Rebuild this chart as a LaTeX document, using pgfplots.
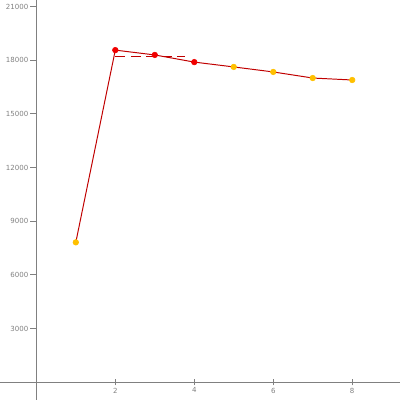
\documentclass[border=0pt]{standalone}
\usepackage{pgfplots}
\pgfplotsset{compat=1.18}
\usepackage{fontspec}
\setmainfont{DejaVu Sans}
\definecolor{linered}{HTML}{C00000}
\definecolor{mkred}{HTML}{F00000}
\definecolor{mkorange}{HTML}{FFC000}
\definecolor{axgray}{HTML}{808080}
\begin{document}
\begin{tikzpicture}
\begin{axis}[
  scale only axis, width=10cm, height=10cm,
  axis lines=middle, axis line style={-, axgray, line width=0.6pt},
  xmin=-0.92, xmax=9.21, ymin=-990, ymax=21360,
  xtick={2,4,6,8}, ytick={3000,6000,...,21000},
  scaled y ticks=false,
  tick style={axgray, line width=0.6pt},
  major tick length=4.5pt,
  ytick align=outside, xtick align=center,
  tick label style={font=\fontsize{5}{6}\selectfont, text=axgray},
  yticklabel style={inner sep=1pt},
  xticklabel style={inner sep=1.5pt},
  /pgf/number format/assume math mode=true,
  /pgf/number format/1000 sep={},
  clip=false,
]
\coordinate (bl) at (rel axis cs:0,0);
\coordinate (tr) at (rel axis cs:1,1);
\addplot[linered, line width=0.7pt, mark=none] coordinates {(1,7820) (2,18560) (3,18290) (4,17890) (5,17620) (6,17340) (7,17000) (8,16890)};
\addplot[linered, line width=0.7pt, dash pattern=on 7pt off 4pt, mark=none] coordinates {(2,18210) (3.77,18210)};
\addplot[only marks, mark=*, mark size=2pt, mark options={draw=mkred, fill=mkred}] coordinates {(2,18560) (3,18290) (4,17890)};
\addplot[only marks, mark=*, mark size=2pt, mark options={draw=mkorange, fill=mkorange}] coordinates {(1,7820) (5,17620) (6,17340) (7,17000) (8,16890)};
\end{axis}
\pgfresetboundingbox
\path[use as bounding box] (bl) rectangle (tr);
\end{tikzpicture}
\end{document}
